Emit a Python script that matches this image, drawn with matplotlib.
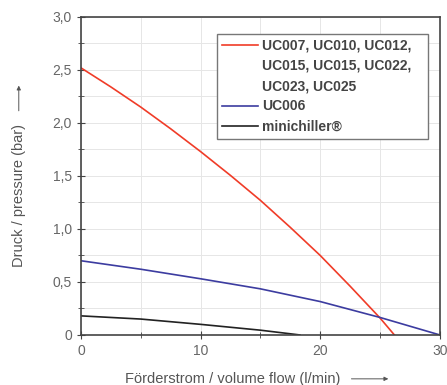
import matplotlib
matplotlib.use("Agg")
import matplotlib.pyplot as plt
import numpy as np

# curves
flow_uc007 = [0, 2.5, 5, 7.5, 10, 12.5, 15, 17.5, 20, 22.5, 25, 26.2]
pres_uc007 = [2.52, 2.34, 2.15, 1.945, 1.73, 1.505, 1.27, 1.015, 0.75, 0.46, 0.16, 0.0]

flow_uc006 = [0, 5, 10, 15, 20, 25, 30]
pres_uc006 = [0.70, 0.62, 0.53, 0.435, 0.315, 0.165, 0.0]

flow_mini = [0, 5, 10, 15, 18.3]
pres_mini = [0.18, 0.15, 0.10, 0.045, 0.0]

labels_uc007 = ["UC007, UC010, UC012,   ", "UC015, UC015, UC022,", "UC023, UC025"]
label_uc006 = "UC006"
label_mini = "minichiller®"

plt.rcParams['font.family'] = ['Liberation Sans', 'DejaVu Sans']

fig = plt.figure(figsize=(4.47, 3.85), dpi=100)
ax = fig.add_axes([0.181, 0.13, 0.803, 0.826])

ax.plot(flow_uc007, pres_uc007, color="#f03c28", lw=1.2, label=labels_uc007[0])
# extra legend rows for the wrapped label
for lab in labels_uc007[1:]:
    ax.plot([], [], color="none", label=lab)
ax.plot(flow_uc006, pres_uc006, color="#3c3ca0", lw=1.2, label=label_uc006)
ax.plot(flow_mini, pres_mini, color="#222222", lw=1.2, label=label_mini)

ax.set_xlim(0, 30)
ax.set_ylim(0, 3.0)
ax.set_xticks([0, 10, 20, 30])
ax.set_xticks([5, 15, 25], minor=True)
ax.set_yticks(np.arange(0, 3.01, 0.5))
ax.set_yticks(np.arange(0.25, 3.0, 0.5), minor=True)
ax.set_yticklabels(["0", "0,5", "1,0", "1,5", "2,0", "2,5", "3,0"])
ax.grid(True, which="both", color="#e6e6e6", lw=0.7)
ax.set_axisbelow(True)
ax.tick_params(which="both", direction="inout", labelsize=10, labelcolor="#666666", color="#444444")
ax.tick_params(which="major", length=6)
ax.tick_params(which="minor", length=4)
for s in ax.spines.values():
    s.set_color("#444444")
    s.set_linewidth(1.2)

leg = ax.legend(loc="upper right", bbox_to_anchor=(0.966, 0.947), fontsize=10,
                handlelength=2.6, handletextpad=0.3, borderpad=0.35, labelspacing=0.45,
                borderaxespad=0, fancybox=False, framealpha=1, edgecolor="#777777")
for t in leg.get_texts():
    t.set_color("#444444")
    t.set_fontweight("bold")

fig.text(0.28, 0.016, "Förderstrom / volume flow (l/min)", fontsize=10.5, color="#555555", va="center")
ax.annotate("", xy=(0.875, 0.016), xytext=(0.78, 0.016), xycoords="figure fraction",
            arrowprops=dict(arrowstyle="-|>", color="#555555", lw=0.7, mutation_scale=6))
fig.text(0.042, 0.306, "Druck / pressure (bar)", fontsize=10.5, color="#555555", rotation=90, ha="center", va="bottom")
ax.annotate("", xy=(0.042, 0.785), xytext=(0.042, 0.705), xycoords="figure fraction",
            arrowprops=dict(arrowstyle="-|>", color="#555555", lw=0.7, mutation_scale=6))

fig.savefig("out.png", dpi=100)
